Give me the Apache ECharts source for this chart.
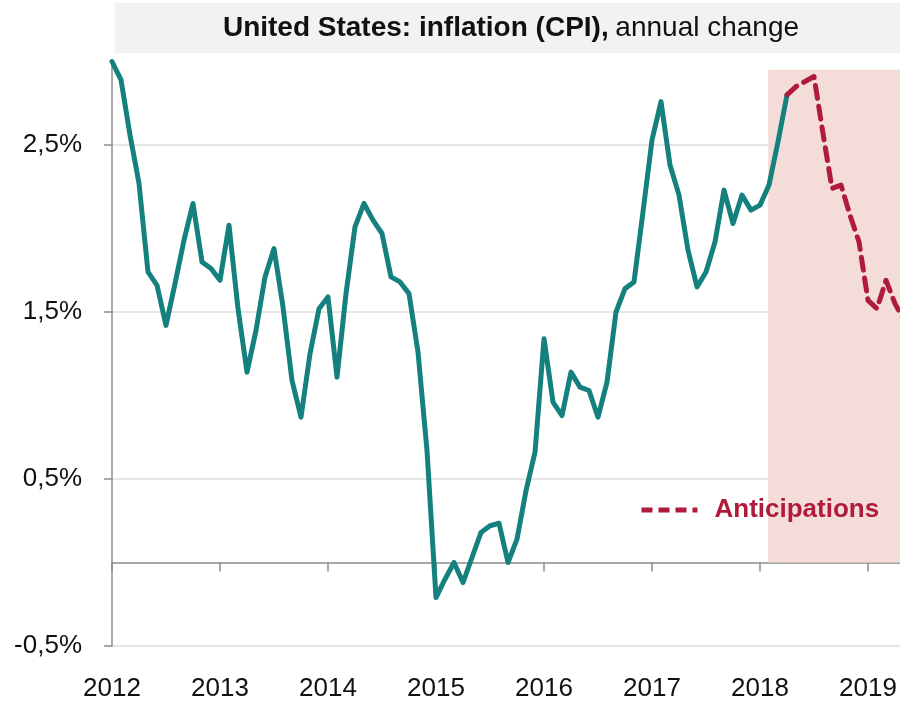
<!DOCTYPE html>
<html>
<head>
<meta charset="utf-8">
<script src="https://cdn.jsdelivr.net/npm/echarts@6/dist/echarts.min.js"></script>
<style>
  html, body { margin: 0; padding: 0; background: #fff; }
  #chart { width: 900px; height: 702px; }
</style>
</head>
<body>
<div id="chart"></div>
<script>
// monthly CPI, annual change (%), Jan 2012 -> Apr 2018
const actual = [
  3.00, 2.89, 2.56, 2.27, 1.74, 1.66, 1.42, 1.67, 1.93, 2.15, 1.80, 1.76,
  1.69, 2.02, 1.52, 1.14, 1.39, 1.71, 1.88, 1.53, 1.09, 0.87, 1.25, 1.52,
  1.59, 1.11, 1.61, 2.01, 2.15, 2.05, 1.97, 1.71, 1.68, 1.61, 1.26, 0.67,
  -0.21, -0.10, 0.00, -0.12, 0.03, 0.18, 0.22, 0.235, 0.00, 0.14, 0.43, 0.66,
  1.34, 0.96, 0.88, 1.14, 1.05, 1.03, 0.87, 1.08, 1.50, 1.64, 1.68, 2.10,
  2.53, 2.76, 2.38, 2.20, 1.87, 1.65, 1.74, 1.92, 2.23, 2.03, 2.20, 2.11,
  2.14, 2.26, 2.52, 2.80
];
// anticipations, starting at the last actual month (Apr 2018)
const forecastStart = 75;
const forecast = [2.80, 2.85, 2.88, 2.91, 2.57, 2.24, 2.26, 2.08, 1.92, 1.57, 1.52, 1.69, 1.55, 1.45];
const startYear = 2012;
const yTicks = [-0.5, 0.5, 1.5, 2.5];
const shadeFrom = 72.9;   // month index where the shaded block starts
const shadeTop = 2.95;

const teal = '#15817e';
const red = '#b01a3b';
const fontFam = '"Liberation Sans", Arial, sans-serif';

const chart = echarts.init(document.getElementById('chart'));

const option = {
  animation: false,
  grid: { left: 112, right: -76, top: -22, bottom: 56, containLabel: false, outerBoundsMode: 'none' },
  graphic: [
    {
      type: 'rect', z: 100,
      shape: { x: 104, y: 0, width: 11, height: 59 },
      style: { fill: '#fff' }
    },
    {
      type: 'rect', z: 100,
      shape: { x: 115, y: 3, width: 785, height: 50 },
      style: { fill: '#f2f2f2' }
    },
    {
      type: 'text', z: 101,
      x: 511, y: 28,
      style: {
        text: '{b|United States: inflation (CPI),}  {n|annual change}',
        align: 'center', verticalAlign: 'middle',
        rich: {
          b: { fontFamily: fontFam, fontSize: 28, fontWeight: 'bold', fill: '#111' },
          n: { fontFamily: fontFam, fontSize: 28, fill: '#111' }
        }
      }
    }
  ],
  legend: {
    data: ['Anticipations'],
    left: 634, top: 492,
    itemWidth: 56, itemHeight: 14,
    itemStyle: { opacity: 0 },
    lineStyle: { width: 5, type: [11, 6], cap: 'butt' },
    textStyle: { color: red, fontSize: 26, fontWeight: 'bold', fontFamily: fontFam, padding: [0, 0, 0, 12] }
  },
  xAxis: [
    {
      type: 'value', min: 0, max: 96, interval: 12,
      axisLine: { onZero: true, lineStyle: { color: '#8c8c8c', width: 1.5 } },
      axisTick: { show: true, length: 9, lineStyle: { color: '#8c8c8c', width: 1.5 } },
      axisLabel: { show: false },
      splitLine: { show: false }
    },
    {
      type: 'value', min: 0, max: 96, interval: 12, position: 'bottom',
      axisLine: { show: false, onZero: false },
      axisTick: { show: false },
      axisLabel: {
        margin: 30, fontSize: 26, color: '#111', fontFamily: fontFam,
        formatter: v => String(startYear + v / 12)
      },
      splitLine: { show: false }
    }
  ],
  yAxis: {
    type: 'value', min: -0.5, max: 3.5, interval: 1,
    axisLine: { show: true, lineStyle: { color: '#8c8c8c', width: 1.5 } },
    axisTick: { show: true, length: 8, lineStyle: { color: '#8c8c8c', width: 1.5 } },
    axisLabel: {
      margin: 30, fontSize: 26, color: '#111', fontFamily: fontFam,
      formatter: v => yTicks.indexOf(v) >= 0 ? v.toFixed(1).replace('.', ',') + '%' : ''
    },
    splitLine: { show: true, lineStyle: { color: '#e6e6e6', width: 2 } }
  },
  series: [
    {
      name: 'CPI', type: 'line', xAxisIndex: 0,
      data: actual.map((v, i) => [i, v]),
      showSymbol: false, symbol: 'none',
      lineStyle: { color: teal, width: 5, cap: 'round', join: 'round' },
      z: 3,
      markArea: {
        silent: true,
        itemStyle: { color: '#f4ddd8' },
        data: [[{ xAxis: shadeFrom, yAxis: 0 }, { xAxis: 96, yAxis: shadeTop }]]
      }
    },
    {
      name: 'Anticipations', type: 'line', xAxisIndex: 0,
      data: forecast.map((v, i) => [forecastStart + i, v]),
      showSymbol: false, symbol: 'none',
      itemStyle: { color: red },
      lineStyle: { color: red, width: 5, type: [13, 8], cap: 'round', join: 'round' },
      z: 3
    }
  ]
};

chart.setOption(option);
</script>
</body>
</html>
